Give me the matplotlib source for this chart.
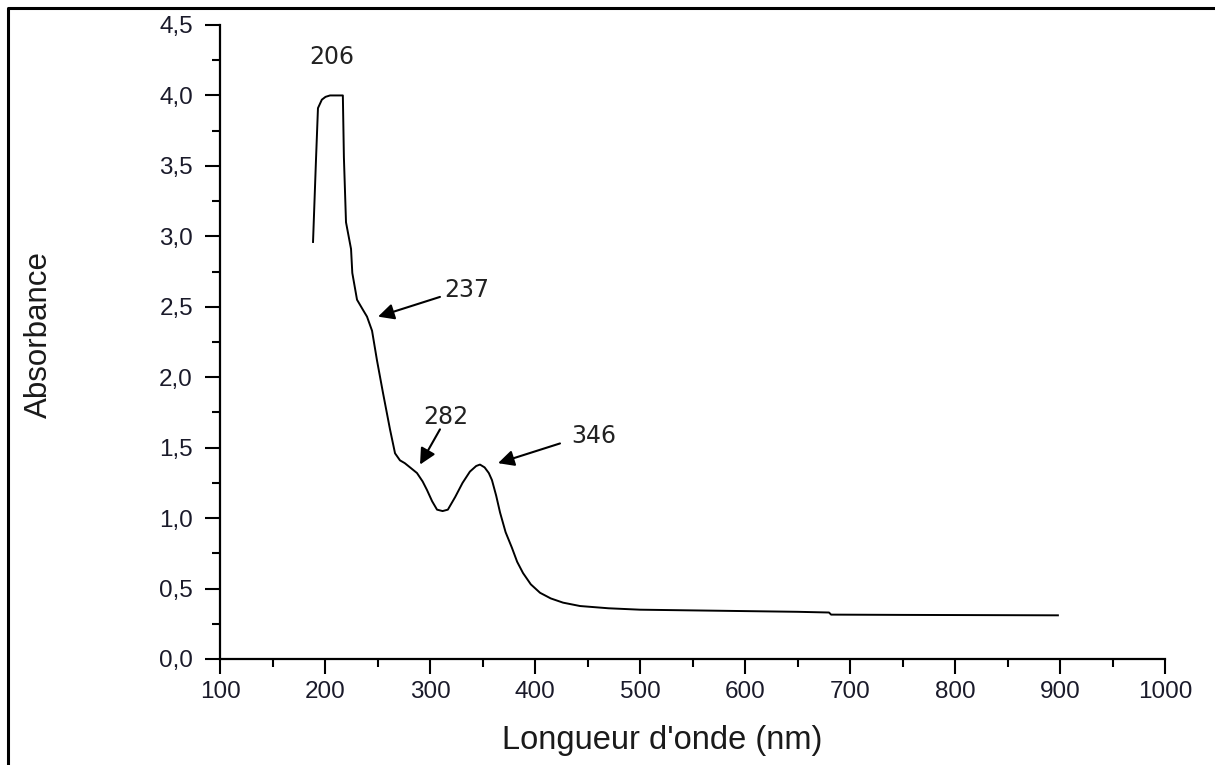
import matplotlib
matplotlib.use('Agg')
import matplotlib.pyplot as plt
from matplotlib.lines import Line2D

# Spectre UV-visible
wavelength = [188.6, 191.4, 193.3, 197.0, 200.5, 204.8, 211.0, 217.0, 218.0, 220.0,
              224.8, 226.0, 230.5, 236.0, 240.0, 244.8, 249.5, 255.2, 261.9, 266.7,
              271.4, 276.0, 281.0, 287.6, 293.0, 297.1, 302.0, 306.7, 312.0, 317.0,
              324.0, 331.0, 338.0, 344.0, 347.6, 352.0, 356.0, 359.0, 363.0, 366.7,
              372.0, 378.0, 383.0, 388.6, 396.0, 404.8, 415.0, 426.7, 442.9, 470.0,
              500.0, 550.0, 600.0, 650.0, 680.0, 682.0, 750.0, 800.0, 850.0, 898.0]
absorbance = [2.96, 3.54, 3.91, 3.97, 3.99, 4.00, 4.00, 4.00, 3.56, 3.10,
              2.91, 2.74, 2.55, 2.48, 2.43, 2.33, 2.12, 1.89, 1.63, 1.46,
              1.41, 1.39, 1.36, 1.32, 1.26, 1.20, 1.12, 1.06, 1.05, 1.06,
              1.15, 1.25, 1.33, 1.37, 1.38, 1.36, 1.32, 1.27, 1.16, 1.04,
              0.90, 0.79, 0.69, 0.61, 0.53, 0.47, 0.43, 0.40, 0.376, 0.36,
              0.35, 0.345, 0.34, 0.335, 0.33, 0.315, 0.313, 0.312, 0.311, 0.31]

# Pics annotés : texte, position du texte, départ et pointe de la flèche
peak_labels = ['206', '237', '282', '346']
label_pos = [(206.7, 4.27), (335.0, 2.62), (315.0, 1.72), (456.0, 1.58)]
arrow_tail = [None, (309.5, 2.57), (309.5, 1.63), (423.8, 1.53)]
arrow_tip = [None, (250.5, 2.43), (290.5, 1.38), (364.8, 1.39)]

xticks = [100, 200, 300, 400, 500, 600, 700, 800, 900, 1000]
yticks = [0.0, 0.5, 1.0, 1.5, 2.0, 2.5, 3.0, 3.5, 4.0, 4.5]

fig = plt.figure(figsize=(12.15, 7.65), dpi=100)
ax = fig.add_axes([220 / 1215, 1 - 659 / 765, 945 / 1215, 634 / 765])

ax.plot(wavelength, absorbance, color='black', lw=1.4)

ax.set_xlim(100, 1000)
ax.set_ylim(0, 4.5)
ax.set_xticks(xticks)
ax.set_xticklabels([str(v) for v in xticks])
ax.set_yticks(yticks)
ax.set_yticklabels([('%.1f' % v).replace('.', ',') for v in yticks])
ax.set_xticks([150 + 100 * i for i in range(9)], minor=True)
ax.set_yticks([0.25 + 0.5 * i for i in range(9)], minor=True)

for s in ['top', 'right']:
    ax.spines[s].set_visible(False)
for s in ['left', 'bottom']:
    ax.spines[s].set_linewidth(1.6)

ax.tick_params(which='major', direction='out', length=10.5, width=1.5,
               labelsize=17.5, colors='black')
ax.tick_params(which='minor', direction='out', length=5.5, width=1.5)
ax.tick_params(axis='y', pad=9)
ax.tick_params(axis='x', pad=5)
for lab in ax.get_xticklabels() + ax.get_yticklabels():
    lab.set_family('Liberation Sans')
    lab.set_color('#1a1a2a')

# titres des axes
fig.text(662 / 1215, 1 - 741 / 765, "Longueur d'onde (nm)", ha='center', va='center',
         fontsize=23.5, family='Liberation Sans', color='#1a1a1a')
fig.text(39 / 1215, 1 - 335 / 765, 'Absorbance', ha='center', va='center',
         rotation=90, fontsize=22.5, family='Liberation Sans', color='#1a1a1a')

for txt, pos, tail, tip in zip(peak_labels, label_pos, arrow_tail, arrow_tip):
    ax.text(pos[0], pos[1], txt, ha='center', va='center', fontsize=17,
            family='DejaVu Sans', color='#222222')
    if tip is not None:
        ax.annotate('', xy=tip, xytext=tail,
                    arrowprops=dict(arrowstyle='-|>', color='black', lw=1.5,
                                    mutation_scale=24, shrinkA=0, shrinkB=0))

# cadre de l'image (bord gauche et haut)
fig.add_artist(Line2D([8 / 1215, 8 / 1215, 1], [0, 1 - 8 / 765, 1 - 8 / 765],
                      transform=fig.transFigure, color='black', lw=2.2))

fig.savefig('out.png', dpi=100)
